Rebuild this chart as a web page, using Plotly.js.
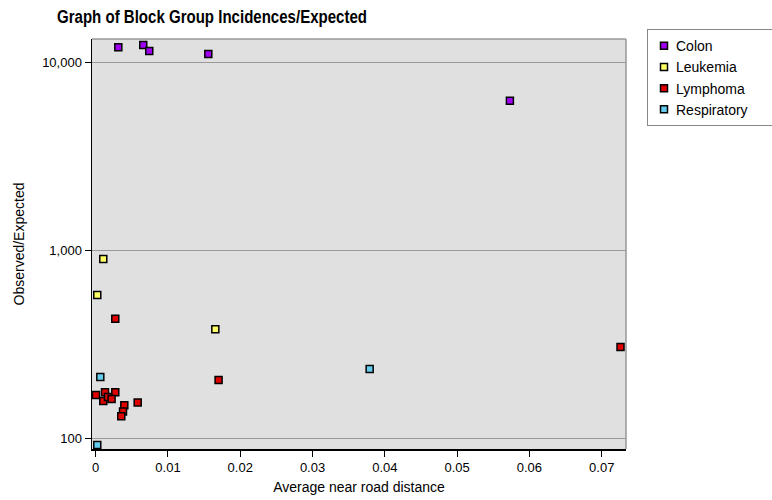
<!DOCTYPE html>
<html>
<head>
<meta charset="utf-8">
<script src="https://cdn.plot.ly/plotly-3.0.1.min.js"></script>
<style>html,body{margin:0;padding:0;background:#fff;}#chart{width:772px;height:500px;}</style>
</head>
<body>
<div id="chart"></div>
<script>
var colonX = [0.00313, 0.00658, 0.00741, 0.01558, 0.0573];
var colonY = [12020, 12350, 11480, 11070, 6250];
var leukemiaX = [0.00105, 0.00022, 0.01655];
var leukemiaY = [900, 578, 380];
var lymphomaX = [0.00271, 0.0726, 0.0170, 0.00004, 0.00129, 0.00271, 0.00105, 0.0017, 0.0022, 0.00396, 0.00378, 0.00354, 0.00581];
var lymphomaY = [432, 306, 204, 170, 176, 176, 158, 166, 162, 150, 139, 131, 155];
var respiratoryX = [0.00064, 0.00022, 0.0379];
var respiratoryY = [212, 92, 234];
var xTicks = [0, 0.01, 0.02, 0.03, 0.04, 0.05, 0.06, 0.07];
var xTickText = ["0", "0.01", "0.02", "0.03", "0.04", "0.05", "0.06", "0.07"];
var yTicks = [100, 1000, 10000];
var yTickText = ["100", "1,000", "10,000"];

function tr(name, x, y, color) {
  return {type: 'scatter', mode: 'markers', name: name, x: x, y: y,
    marker: {symbol: 'square', size: 7, color: color, line: {color: '#000', width: 1.5}},
    hoverinfo: 'x+y'};
}
var data = [
  tr('Colon', colonX, colonY, '#A000F0'),
  tr('Leukemia', leukemiaX, leukemiaY, '#FFFF66'),
  tr('Lymphoma', lymphomaX, lymphomaY, '#E00000'),
  tr('Respiratory', respiratoryX, respiratoryY, '#66CCEE')
];
var font = 'Liberation Sans, Arial, sans-serif';
var layout = {
  width: 772, height: 500,
  margin: {l: 92, r: 146, t: 39, b: 51, pad: 0, autoexpand: false},
  paper_bgcolor: '#fff', plot_bgcolor: '#E0E0E0',
  font: {family: font, size: 13, color: '#000'},
  title: {text: '<b>Graph of Block Group Incidences/Expected</b>',
    font: {family: font, size: 18, color: '#000'},
    x: 212/772, xanchor: 'center', y: 1 - 17/500, yanchor: 'middle'},
  xaxis: {range: [-0.00051, 0.07336], tickvals: xTicks, ticktext: xTickText,
    showgrid: false, zeroline: false, showline: true, linecolor: '#000', linewidth: 1.5, mirror: false,
    ticks: 'outside', ticklen: 6, tickcolor: '#000', tickfont: {size: 13},
    title: {text: 'Average near road distance', font: {size: 14}, standoff: 8}},
  yaxis: {type: 'log', range: [1.943, 4.124], tickvals: yTicks, ticktext: yTickText,
    showgrid: true, gridcolor: '#999', gridwidth: 1.5, zeroline: false,
    showline: true, linecolor: '#000', linewidth: 1.5,
    ticks: 'outside', ticklen: 6, tickcolor: '#000', tickfont: {size: 13},
    title: {text: 'Observed/Expected', font: {size: 14}, standoff: 14}},
  shapes: [
    {type: 'line', xref: 'paper', yref: 'paper', x0: 0, x1: 1, y0: 1, y1: 1, line: {color: '#999', width: 1.5}},
    {type: 'line', xref: 'paper', yref: 'paper', x0: 1, x1: 1, y0: 0, y1: 1, line: {color: '#999', width: 1.5}}
  ],
  showlegend: true,
  legend: {x: (647 - 92) / 534, xanchor: 'left', y: 1.024, yanchor: 'top', bgcolor: '#fff',
    bordercolor: '#888', borderwidth: 1, font: {size: 14}, tracegroupgap: 0}
};
Plotly.newPlot('chart', data, layout, {displayModeBar: false, staticPlot: true}).then(function (gd) {
  var t = gd.querySelector('.gtitle');
  if (t) { t.setAttribute('textLength', '310'); t.setAttribute('lengthAdjust', 'spacingAndGlyphs'); }
  gd.querySelectorAll('.legend .traces').forEach(function (g) {
    var pts = g.querySelector('.legendpoints');
    if (pts) pts.setAttribute('transform', 'translate(-4,0)');
    var txt = g.querySelector('.legendtext');
    if (txt) txt.setAttribute('x', '28');
  });
  var bg = gd.querySelector('.legend .bg');
  if (bg) bg.setAttribute('width', '200');
});
</script>
</body>
</html>
